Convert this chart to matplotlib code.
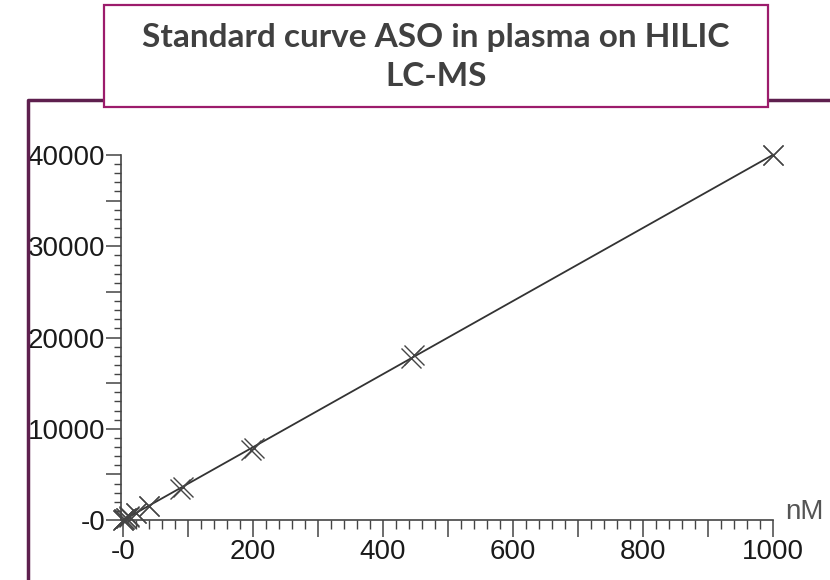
import matplotlib
matplotlib.use("Agg")
import matplotlib.pyplot as plt
from matplotlib import font_manager
from matplotlib.lines import Line2D
from matplotlib.patches import Rectangle
from matplotlib.ticker import MultipleLocator, FixedLocator, FixedFormatter
import numpy as np

# standard curve data (two replicate injections)
conc_rep1 = [0, 2, 5, 10, 20, 40, 88, 197, 443, 1000]
area_rep1 = [0, 90, 210, 420, 820, 1550, 3450, 7650, 17800, 40000]
conc_rep2 = [0, 2, 5, 10, 20, 40, 92, 202, 448, 1000]
area_rep2 = [0, 60, 180, 380, 780, 1500, 3600, 7900, 18100, 40000]

x_ticks = [0, 200, 400, 600, 800, 1000]
x_tick_labels = ["-0", "200", "400", "600", "800", "1000"]
y_ticks = [0, 10000, 20000, 30000, 40000]
y_tick_labels = ["-0", "10000", "20000", "30000", "40000"]

title = "Standard curve ASO in plasma on HILIC\nLC-MS"
unit_label = "nM"

names = {f.name for f in font_manager.fontManager.ttflist}
tick_font = "Liberation Sans Narrow" if "Liberation Sans Narrow" in names else "Liberation Sans"

fig = plt.figure(figsize=(8.3, 5.8), dpi=100)

# outer slide frame (left and top edge)
fig.add_artist(Line2D([28 / 830, 28 / 830, 1.0], [0.0, 1 - 100 / 580, 1 - 100 / 580],
                      transform=fig.transFigure, color="#5e1f4e", lw=2.5, zorder=1))
# title box
fig.add_artist(Rectangle((104 / 830, 1 - 107 / 580), 664 / 830, 102 / 580,
                         transform=fig.transFigure, facecolor="white",
                         edgecolor="#9c1c6c", lw=1.6, zorder=2))
fig.text(436 / 830, 1 - 57 / 580, title, ha="center", va="center",
         fontsize=24, fontweight="bold", color="#404040", family="Lato",
         linespacing=1.45, zorder=3)

ax = fig.add_axes([121 / 830, 60 / 580, (773 - 121) / 830, (520 - 155) / 580])

all_x = np.array(conc_rep1 + conc_rep2, dtype=float)
all_y = np.array(area_rep1 + area_rep2, dtype=float)
slope, intercept = np.polyfit(all_x, all_y, 1)
fit_x = np.array([0.0, max(all_x)])
ax.plot(fit_x, slope * fit_x + intercept, color="#333333", lw=1.3, zorder=2,
        clip_on=False)

for cx, cy in [(conc_rep1, area_rep1), (conc_rep2, area_rep2)]:
    ax.plot(cx, cy, linestyle="none", marker="x", markersize=14, mew=1.0,
            color="#444444", zorder=3, clip_on=False)

ax.set_xlim(-3, 1000)
ax.set_ylim(0, 40000)

for s in ["top", "right"]:
    ax.spines[s].set_visible(False)
for s in ["left", "bottom"]:
    ax.spines[s].set_color("#444444")
    ax.spines[s].set_linewidth(1.2)
    ax.spines[s].set_zorder(1)

# x ticks: long ticks every 100, labels every 200, minor every 20
ax.xaxis.set_major_locator(FixedLocator(list(range(0, 1001, 100))))
ax.xaxis.set_major_formatter(FixedFormatter(
    [x_tick_labels[x_ticks.index(v)] if v in x_ticks else "" for v in range(0, 1001, 100)]))
ax.xaxis.set_minor_locator(MultipleLocator(20))
# y ticks: long ticks every 5000, labels every 10000, minor every 1000
ax.yaxis.set_major_locator(FixedLocator(list(range(0, 40001, 5000))))
ax.yaxis.set_major_formatter(FixedFormatter(
    [y_tick_labels[y_ticks.index(v)] if v in y_ticks else "" for v in range(0, 40001, 5000)]))
ax.yaxis.set_minor_locator(MultipleLocator(1000))

ax.tick_params(axis="x", which="major", length=12, width=1.1, color="#444444", pad=2)
ax.tick_params(axis="x", which="minor", length=6.5, width=1.0, color="#444444")
ax.tick_params(axis="y", which="major", length=10.5, width=1.1, color="#444444", pad=1)
ax.tick_params(axis="y", which="minor", length=5, width=1.0, color="#444444")
for lab in ax.get_xticklabels() + ax.get_yticklabels():
    lab.set_fontfamily(tick_font)
    lab.set_fontsize(20)
    lab.set_color("#1a1a1a")

fig.text(804 / 830, 1 - 512 / 580, unit_label, ha="center", va="center",
         fontsize=20, family=tick_font, color="#555555")

fig.savefig("out.png", dpi=100)
